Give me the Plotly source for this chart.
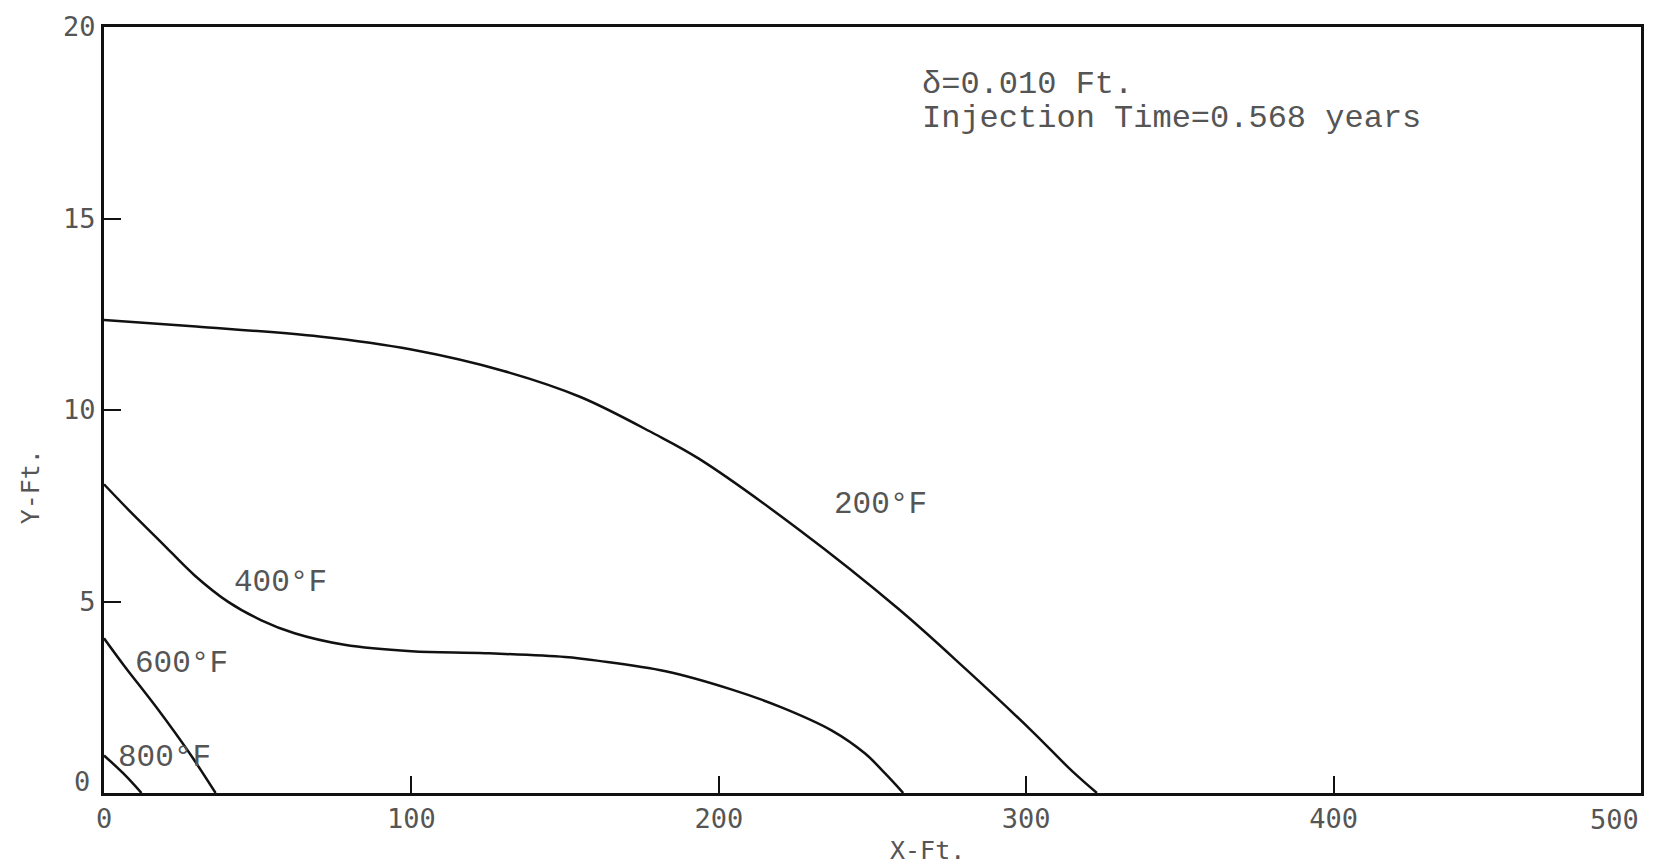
import plotly.graph_objects as go

# Isotherm curves (X-Ft., Y-Ft.)
x_200 = [0, 30, 70, 100, 130, 155, 179, 193.5, 226, 258.4, 280, 301.7, 314.7, 323]
y_200 = [12.35, 12.18, 11.92, 11.58, 11.02, 10.34, 9.38, 8.73, 6.88, 4.81, 3.26, 1.63, 0.59, 0]

x_400 = [0, 7.9, 18.7, 29.5, 40.4, 51.2, 62, 78.2, 100, 124, 150, 161, 182.7, 204.3, 220.6, 236.8, 247.6, 254.1, 260]
y_400 = [8.06, 7.4, 6.54, 5.68, 4.99, 4.51, 4.17, 3.87, 3.70, 3.65, 3.55, 3.45, 3.18, 2.70, 2.23, 1.63, 1.03, 0.51, 0]

x_600 = [0, 6.3, 17.1, 27.9, 36.3]
y_600 = [4.04, 3.35, 2.23, 1.03, 0]

x_800 = [0, 6.3, 12.2]
y_800 = [0.98, 0.51, 0]

curve_labels = ["200°F", "400°F", "600°F", "800°F"]
label_x = [252.5, 57.3, 25.3, 19.8]
label_y = [7.53, 5.5, 3.39, 0.93]

x_ticks = [0, 100, 200, 300, 400]
y_ticks = [5, 10, 15, 20]

note_lines = ["δ=0.010 Ft.", "Injection Time=0.568 years"]

MONO = "Liberation Mono"
SANSMONO = "DejaVu Sans Mono"
INK = "#111111"
GRAY = "#555555"

fig = go.Figure()
for xs, ys in [(x_200, y_200), (x_400, y_400), (x_600, y_600), (x_800, y_800)]:
    fig.add_trace(go.Scatter(x=xs, y=ys, mode="lines",
                             line=dict(color=INK, width=2.5, shape="spline", smoothing=1.0),
                             showlegend=False, hoverinfo="skip"))

annotations = []
for t, lx, ly in zip(curve_labels, label_x, label_y):
    annotations.append(dict(x=lx, y=ly, xref="x", yref="y", text=t, showarrow=False,
                            font=dict(family=MONO, size=31, color=GRAY), xanchor="center", yanchor="middle"))
annotations.append(dict(x=265.6, y=18.5, xref="x", yref="y", text=note_lines[0], showarrow=False,
                        font=dict(family=MONO, size=32, color=GRAY), xanchor="left", yanchor="middle"))
annotations.append(dict(x=265.6, y=17.6, xref="x", yref="y", text=note_lines[1], showarrow=False,
                        font=dict(family=MONO, size=32, color=GRAY), xanchor="left", yanchor="middle"))
# last x tick label, kept inside the page
annotations.append(dict(x=500, y=0, xref="x", yref="y", text="500", showarrow=False, yshift=-26,
                        font=dict(family=SANSMONO, size=27, color=GRAY), xanchor="right", yanchor="middle"))
# y zero label, set slightly above the axis as in the original
annotations.append(dict(x=0, y=0, xref="x", yref="y", text="0", showarrow=False, xshift=-12, yshift=12,
                        font=dict(family=SANSMONO, size=27, color=GRAY), xanchor="right", yanchor="middle"))
# axis titles
annotations.append(dict(x=(929 - 104) / 1540, y=(793 - 851) / 774, xref="paper", yref="paper", text="X-Ft.",
                        showarrow=False, font=dict(family=SANSMONO, size=25, color=GRAY),
                        xanchor="center", yanchor="middle"))
annotations.append(dict(x=(30 - 104) / 1540, y=(793 - 484) / 774, xref="paper", yref="paper", text="Y-Ft.",
                        showarrow=False, font=dict(family=SANSMONO, size=25, color=GRAY), textangle=-90,
                        xanchor="center", yanchor="middle"))

fig.update_layout(
    width=1655, height=866,
    margin=dict(l=104, r=11, t=19, b=73),
    paper_bgcolor="white", plot_bgcolor="white",
    annotations=annotations,
    xaxis=dict(range=[0, 500], tickvals=x_ticks, ticks="inside", ticklen=17, tickwidth=2, tickcolor=INK,
               showline=True, linewidth=3, linecolor=INK, mirror=True, showgrid=False, zeroline=False,
               tickfont=dict(family=SANSMONO, size=27, color=GRAY)),
    yaxis=dict(range=[0, 20], tickvals=y_ticks, ticks="inside", ticklen=17, tickwidth=2, tickcolor=INK,
               showline=True, linewidth=3, linecolor=INK, mirror=True, showgrid=False, zeroline=False,
               tickfont=dict(family=SANSMONO, size=27, color=GRAY)),
)

fig.write_html("out.html")
